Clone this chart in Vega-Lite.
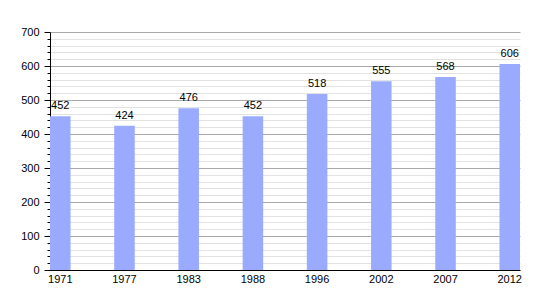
{
  "$schema": "https://vega.github.io/schema/vega-lite/v6.json",
  "autosize": "none",
  "width": 470,
  "height": 238,
  "padding": {"left": 50, "top": 32, "right": 30, "bottom": 30},
  "background": "white",
  "config": {
    "view": {"stroke": null},
    "font": "Liberation Sans"
  },
  "data": {
    "values": [
      {"year": "1971", "pop": 452},
      {"year": "1977", "pop": 424},
      {"year": "1983", "pop": 476},
      {"year": "1988", "pop": 452},
      {"year": "1996", "pop": 518},
      {"year": "2002", "pop": 555},
      {"year": "2007", "pop": 568},
      {"year": "2012", "pop": 606}
    ]
  },
  "encoding": {
    "x": {
      "field": "year",
      "type": "nominal",
      "sort": null,
      "scale": {"paddingInner": 0.68, "paddingOuter": 0},
      "axis": {
        "title": null,
        "labelAngle": 0,
        "labelFontSize": 11,
        "labelColor": "#000",
        "labelPadding": 3,
        "ticks": false,
        "domainColor": "#000",
        "domainWidth": 1,
        "grid": false
      }
    },
    "y": {
      "field": "pop",
      "type": "quantitative",
      "scale": {"domain": [0, 700], "nice": false},
      "axis": {
        "title": null,
        "values": [0,20,40,60,80,100,120,140,160,180,200,220,240,260,280,300,320,340,360,380,400,420,440,460,480,500,520,540,560,580,600,620,640,660,680,700],
        "labelExpr": "datum.value % 100 === 0 ? datum.label : ''",
        "labelFontSize": 11,
        "labelColor": "#000",
        "labelPadding": 5,
        "domainColor": "#000",
        "tickColor": "#000",
        "tickSize": {"condition": {"test": "datum.value % 100 === 0", "value": 6}, "value": 3},
        "grid": true,
        "gridColor": {"condition": {"test": "datum.value % 100 === 0", "value": "#a8a8a8"}, "value": "#e2e2e2"},
        "gridWidth": 1
      }
    }
  },
  "layer": [
    {"mark": {"type": "bar", "color": "#9aabff"}},
    {
      "mark": {"type": "text", "dy": -10, "fontSize": 11, "color": "#000"},
      "encoding": {"text": {"field": "pop", "type": "quantitative"}}
    }
  ]
}
